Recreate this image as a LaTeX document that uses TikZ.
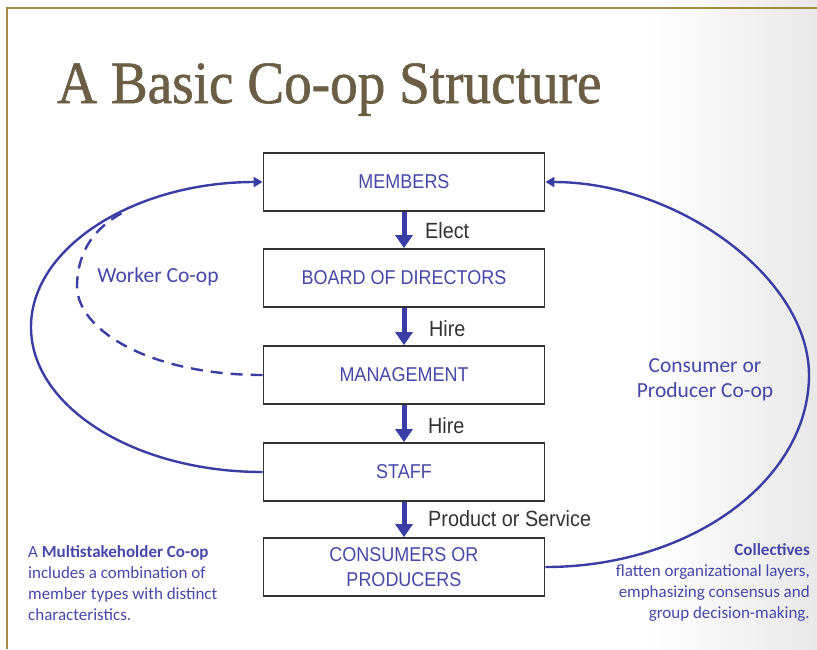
\documentclass[tikz,border=0pt]{standalone}
\usepackage{fontspec}
\setmainfont{Liberation Sans}
\newfontfamily\titlefont[FakeStretch=0.92,FakeBold=1]{Liberation Serif}
\newfontfamily\boxfont[FakeStretch=0.9]{Liberation Sans}
\newfontfamily\notefont{Carlito}
\usetikzlibrary{arrows.meta}

\definecolor{coopblue}{HTML}{3A3DA3}
\definecolor{textblue}{HTML}{4647A8}
\definecolor{framegold}{HTML}{A68A42}
\definecolor{titlebrown}{HTML}{6B5E45}
\definecolor{labelgray}{HTML}{333333}

\tikzset{
  stagebox/.style={draw=black!80, line width=1.8pt, minimum width=281pt, minimum height=58pt,
    inner sep=0pt, align=center, text=textblue, font=\boxfont\fontsize{20}{25}\selectfont},
  downarrow/.style={coopblue, line width=5pt, -{Triangle[width=17pt,length=13pt]}},
  coopcurve/.style={coopblue, line width=2.4pt},
  steplabel/.style={anchor=west, inner sep=0pt, text=labelgray, font=\boxfont\fontsize{22}{26}\selectfont},
  sidetext/.style={inner sep=0pt, align=center, text=textblue, font=\notefont\fontsize{21.5}{25}\selectfont},
  notetext/.style={inner sep=0pt, text=textblue, font=\notefont\fontsize{17}{21}\selectfont},
}

\begin{document}
\begin{tikzpicture}[x=1pt,y=-1pt]
	\useasboundingbox (0,0) rectangle (817,649);
	% slide background
	\shade[left color=white, right color=black!9] (650,0) rectangle (817,649);
	\draw[framegold, line width=2.5pt] (7,649) -- (7,8) -- (817,8);
	\node[anchor=base west, inner sep=0pt, text=titlebrown, font=\titlefont\fontsize{60}{60}\selectfont] (title) at (57,103) {A Basic Co-op Structure};

	% the chain of boxes
	\node[stagebox] (members) at (404,182) {MEMBERS};
	\node[stagebox] (board) at (404,278) {BOARD OF DIRECTORS};
	\node[stagebox] (mgmt) at (404,375) {MANAGEMENT};
	\node[stagebox] (staff) at (404,472) {STAFF};
	\node[stagebox] (consumers) at (404,567) {CONSUMERS OR\\PRODUCERS};

	\draw[downarrow] (members) -- (board);
	\draw[downarrow] (board) -- (mgmt);
	\draw[downarrow] (mgmt) -- (staff);
	\draw[downarrow] (staff) -- (consumers);
	\node[steplabel] (elect) at (425,231) {Elect};
	\node[steplabel] (hire1) at (429,329) {Hire};
	\node[steplabel] (hire2) at (428,426) {Hire};
	\node[steplabel] (product) at (428,519) {Product or Service};

	% loops back to the members
	\draw[coopcurve, -{Triangle[width=10pt,length=9pt]}] (staff.west) .. controls (135,472) and (31,407) .. (31,327)
		.. controls (31,247) and (135,182) .. (members.west);
	\draw[coopcurve, dash pattern=on 12pt off 8pt] (mgmt.west) .. controls (150,375) and (76,330) .. (77,285)
		.. controls (78,250) and (95,228) .. (122,213);
	\draw[coopcurve, -{Triangle[width=10pt,length=9pt]}] (consumers.east) .. controls (691,567) and (809,480) .. (809,375)
		.. controls (809,278) and (678,182) .. (members.east);
	\node[sidetext] (worker) at (158,277) {Worker Co-op};
	\node[sidetext] (consumer) at (705,380) {Consumer or\\Producer Co-op};

	% notes
	\node[notetext, anchor=north west, align=left] (multi) at (28,545) {A \textbf{Multistakeholder Co-op}\\includes a combination of\\member types with distinct\\characteristics.};
	\node[notetext, anchor=north east, align=right] (collect) at (810,543) {\textbf{Collectives}\\flatten organizational layers,\\emphasizing consensus and\\group decision-making.};
\end{tikzpicture}
\end{document}
